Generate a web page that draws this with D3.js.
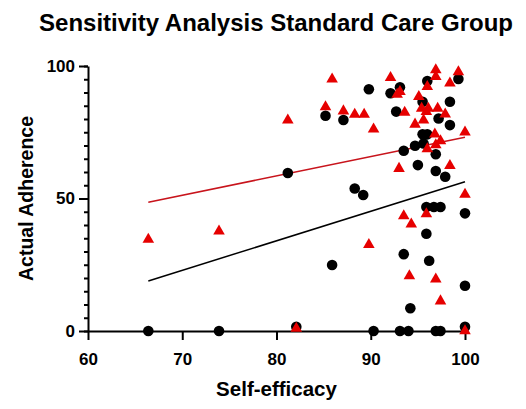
<!DOCTYPE html>
<html>
<head>
<meta charset="utf-8">
<script src="https://cdn.jsdelivr.net/npm/d3@7"></script>
<style>
  body { margin: 0; background: #fff; }
  svg { font-family: "Liberation Sans", Arial, sans-serif; }
</style>
</head>
<body>
<svg id="chart"></svg>
<script>
const width = 526;
const height = 409;

// standard care adherence (black circles)
const blackX = [66.4, 73.9, 82.1, 81.2, 85.2, 87.1, 89.8, 88.3, 89.2, 85.9, 90.3,
  93.1, 92.1, 92.7, 96.0, 99.3, 98.4, 95.5, 97.2, 98.4, 95.5, 96.0, 95.6, 94.7,
  93.5, 96.9, 95.0, 96.9, 97.9, 95.9, 96.7, 97.4, 100, 95.9, 93.5, 96.2, 100,
  94.2, 93.1, 94.0, 96.9, 97.4, 100];
const blackY = [0, 0, 1.6, 59.6, 81.2, 79.6, 91.2, 53.8, 51.3, 24.9, 0,
  92.0, 89.7, 82.8, 94.3, 95.1, 86.5, 86.5, 80.2, 77.7, 74.2, 74.2, 70.8, 69.9,
  68.0, 66.7, 62.6, 60.4, 58.2, 46.8, 46.8, 46.8, 44.4, 36.7, 29.0, 26.5, 17.1,
  8.6, 0, 0, 0, 0, 1.6];

// sensitivity analysis adherence (red triangles)
const redX = [66.4, 73.9, 82.1, 81.2, 85.2, 85.9, 87.1, 88.3, 89.3, 90.3, 89.8,
  92.1, 92.8, 93.1, 93.6, 96.9, 96.9, 96.0, 98.4, 99.3, 95.1, 95.4, 96.1, 97.1,
  97.9, 95.9, 94.7, 95.6, 96.8, 100, 97.4, 96.9, 96.0, 93.0, 98.4, 100, 93.5,
  94.3, 95.9, 94.1, 96.9, 97.4, 100];
const redY = [34.6, 37.7, 1.0, 79.6, 84.6, 95.0, 83.0, 81.7, 81.7, 76.2, 32.6,
  95.6, 89.3, 90.3, 82.5, 98.5, 96.0, 92.2, 93.5, 97.8, 88.4, 84.0, 84.0, 84.0,
  81.8, 82.8, 78.0, 79.6, 74.3, 75.0, 71.7, 70.2, 68.7, 61.3, 62.4, 51.5, 43.4,
  40.3, 44.2, 20.8, 19.6, 11.3, 0];

// fitted lines, end points
const blackFitX = [66.4, 100];
const blackFitY = [18.9, 56.3];
const redFitX = [66.4, 100];
const redFitY = [48.6, 73.1];

const xTicks = [60, 70, 80, 90, 100];
const yTicks = [0, 50, 100];

const margin = { left: 88, right: 61, top: 66, bottom: 78 };

const svg = d3.select("#chart").attr("width", width).attr("height", height);

const x = d3.scaleLinear().domain([60, 100]).range([margin.left, width - margin.right]);
const y = d3.scaleLinear().domain([0, 100]).range([height - margin.bottom, margin.top]);

svg.append("text")
  .attr("x", 276)
  .attr("y", 31)
  .attr("text-anchor", "middle")
  .attr("font-size", "24px")
  .attr("font-weight", "bold")
  .text("Sensitivity Analysis Standard Care Group");

// axes
svg.append("g")
  .attr("transform", `translate(0,${y(0)})`)
  .call(d3.axisBottom(x).tickValues(xTicks).tickSize(9).tickSizeOuter(0).tickPadding(13));

const yMinor = svg.append("g")
  .attr("transform", `translate(${x(60)},0)`)
  .call(d3.axisLeft(y).tickValues(d3.range(0, 101, 5)).tickSize(4).tickFormat(""));
yMinor.select(".domain").remove();

svg.append("g")
  .attr("transform", `translate(${x(60)},0)`)
  .call(d3.axisLeft(y).tickValues(yTicks).tickSize(9).tickSizeOuter(0).tickPadding(4));

svg.selectAll(".domain, .tick line").attr("stroke", "#000").attr("stroke-width", 2);
svg.selectAll(".tick text")
  .attr("font-size", "17px")
  .attr("font-weight", "bold")
  .attr("fill", "#000")
  .style("font-family", "'Liberation Sans', Arial, sans-serif");

svg.append("text")
  .attr("x", x(80))
  .attr("y", 396)
  .attr("text-anchor", "middle")
  .attr("font-size", "20.5px")
  .attr("font-weight", "bold")
  .text("Self-efficacy");

svg.append("text")
  .attr("transform", `translate(33,${y(50)}) rotate(-90)`)
  .attr("text-anchor", "middle")
  .attr("font-size", "19.5px")
  .attr("font-weight", "bold")
  .text("Actual Adherence");

// fit lines
const line = d3.line().x((d) => x(d[0])).y((d) => y(d[1]));
svg.append("path")
  .datum(d3.zip(redFitX, redFitY))
  .attr("d", line)
  .attr("fill", "none")
  .attr("stroke", "#c8141c")
  .attr("stroke-width", 1.5);
svg.append("path")
  .datum(d3.zip(blackFitX, blackFitY))
  .attr("d", line)
  .attr("fill", "none")
  .attr("stroke", "#000")
  .attr("stroke-width", 1.5);

// points
svg.append("g")
  .selectAll("circle")
  .data(d3.zip(blackX, blackY))
  .join("circle")
  .attr("cx", (d) => x(d[0]))
  .attr("cy", (d) => y(d[1]))
  .attr("r", 5.3)
  .attr("fill", "#000");

const tri = d3.symbol().type(d3.symbolTriangle).size(58);
svg.append("g")
  .selectAll("path")
  .data(d3.zip(redX, redY))
  .join("path")
  .attr("d", tri)
  .attr("transform", (d) => `translate(${x(d[0])},${y(d[1])})`)
  .attr("fill", "#e60000");
</script>
</body>
</html>
